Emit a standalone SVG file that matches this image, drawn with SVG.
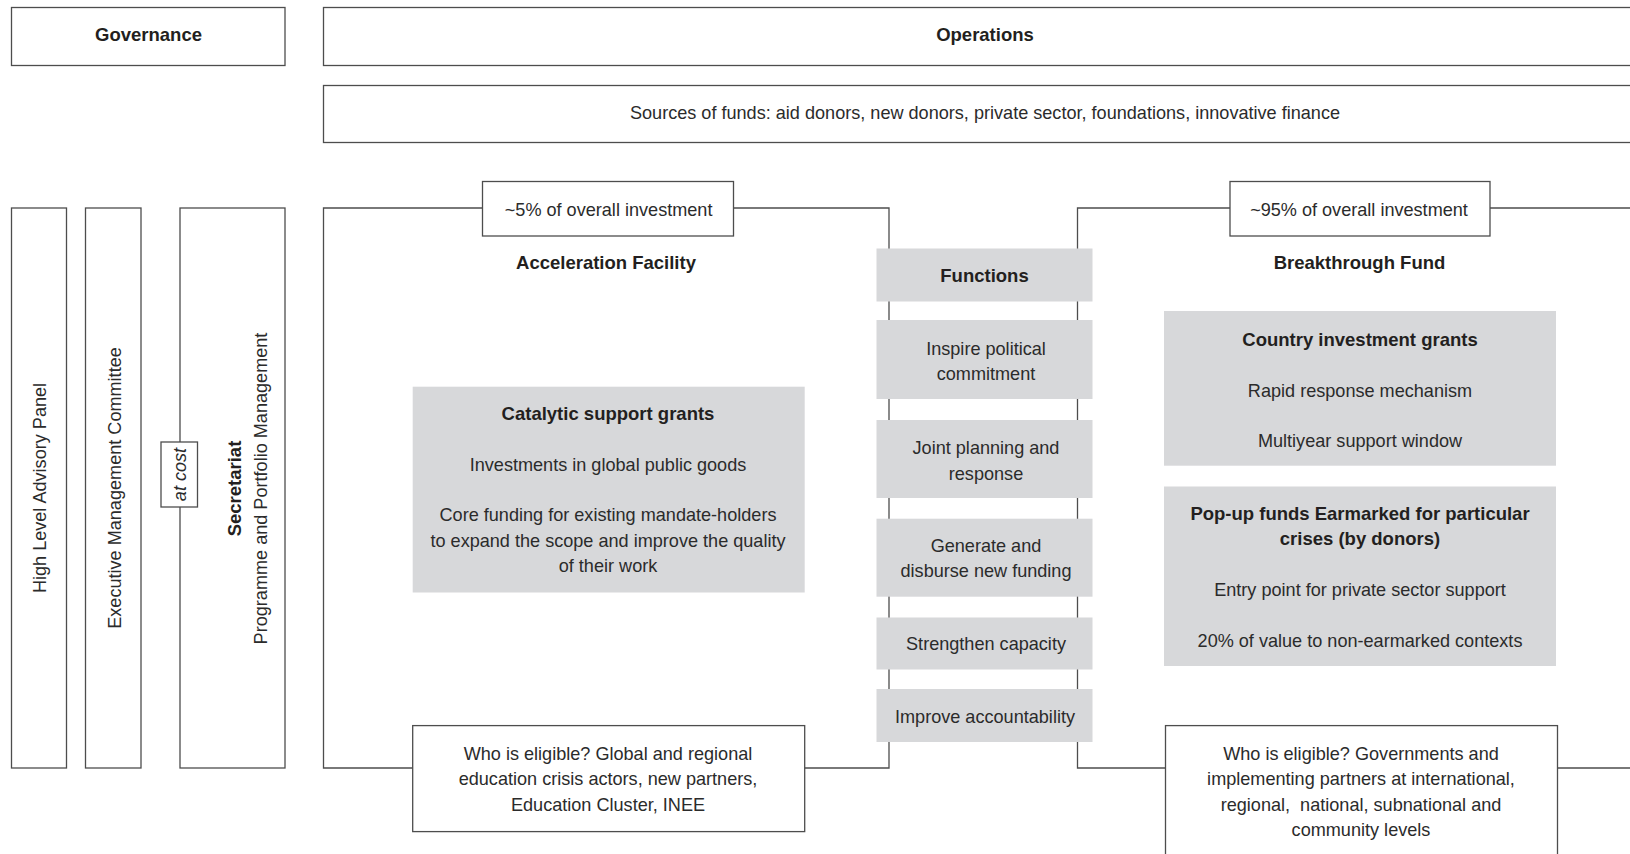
<svg xmlns="http://www.w3.org/2000/svg" width="1630" height="854" viewBox="0 0 1630 854">
<style>
.box{fill:#fff;stroke:#4d4d4d;stroke-width:1.3}
.gray{fill:#d7d8da;stroke:none}
.ln{fill:none;stroke:#4d4d4d;stroke-width:1.3}
.t{font-family:"Liberation Sans",Arial,sans-serif;font-size:18.1px;fill:#2b2b2b;text-anchor:middle}
.b{font-weight:bold;font-size:18.5px;fill:#231f20}
.i{font-style:italic}
</style>
<rect width="1630" height="854" fill="#fff"/>
<g id="connectors">
<path class="ln" d="M323.5,768 L323.5,208 L889,208 L889,768 Z"/>
<path class="ln" d="M1640,208 L1077.5,208 L1077.5,768 L1640,768"/>
</g>
<g id="governance"><rect class="box" x="11.5" y="7.5" width="273.5" height="58"/><text class="t b" x="148.5" y="41">Governance</text></g>
<g id="operations"><rect class="box" x="323.5" y="7.5" width="1320" height="58"/><text class="t b" x="985" y="41">Operations</text></g>
<g id="sources"><rect class="box" x="323.5" y="85.5" width="1320" height="57"/><text class="t" x="985" y="119">Sources of funds: aid donors, new donors, private sector, foundations, innovative finance</text></g>
<g id="hlap"><rect class="box" x="11.5" y="208" width="55" height="560"/><text class="t" transform="translate(39.5,488) rotate(-90)" y="6.5">High Level Advisory Panel</text></g>
<g id="emc"><rect class="box" x="85.5" y="208" width="55.5" height="560"/><text class="t" transform="translate(114.3,488) rotate(-90)" y="6.5">Executive Management Committee</text></g>
<g id="secretariat"><rect class="box" x="180" y="208" width="105" height="560"/><text class="t b" transform="translate(234,488.5) rotate(-90)" y="6.5">Secretariat</text><text class="t" transform="translate(260,488.5) rotate(-90)" y="6.5">Programme and Portfolio Management</text></g>
<g id="atcost"><rect class="box" x="161" y="442" width="36.5" height="65"/><text class="t i" transform="translate(179.3,474.5) rotate(-90)" y="6.5">at cost</text></g>
<g id="pct5"><rect class="box" x="482.5" y="181.5" width="251" height="54.5"/><text class="t" x="608.6" y="215.5">~5% of overall investment</text></g>
<g id="acceleration"><text class="t b" x="606" y="268.5">Acceleration Facility</text></g>
<g id="pct95"><rect class="box" x="1230" y="181.5" width="260" height="54.5"/><text class="t" x="1359" y="215.5">~95% of overall investment</text></g>
<g id="breakthrough"><text class="t b" x="1359.5" y="268.5">Breakthrough Fund</text></g>
<g id="functions"><rect class="gray" x="876.5" y="248.5" width="216" height="53"/><text class="t b" x="984.5" y="282">Functions</text></g>
<g id="f1"><rect class="gray" x="876.5" y="320" width="216" height="79"/><text class="t" x="986" y="354.5">Inspire political</text><text class="t" x="986" y="379.5">commitment</text></g>
<g id="f2"><rect class="gray" x="876.5" y="420" width="216" height="78"/><text class="t" x="986" y="453.5">Joint planning and</text><text class="t" x="986" y="479.5">response</text></g>
<g id="f3"><rect class="gray" x="876.5" y="518.7" width="216" height="78"/><text class="t" x="986" y="552">Generate and</text><text class="t" x="986" y="577">disburse new funding</text></g>
<g id="f4"><rect class="gray" x="876.5" y="617.5" width="216" height="52"/><text class="t" x="986" y="650">Strengthen capacity</text></g>
<g id="f5"><rect class="gray" x="876.5" y="689" width="216" height="53"/><text class="t" x="985" y="722.5">Improve accountability</text></g>
<g id="catalytic"><rect class="gray" x="412.7" y="386.7" width="392" height="205.8"/><text class="t b" x="608" y="420">Catalytic support grants</text><text class="t" x="608" y="471">Investments in global public goods</text><text class="t" x="608" y="521">Core funding for existing mandate-holders</text><text class="t" x="608" y="547">to expand the scope and improve the quality</text><text class="t" x="608" y="572">of their work</text></g>
<g id="eligible-left"><rect class="box" x="412.7" y="725.6" width="392" height="106"/><text class="t" x="608" y="760">Who is eligible? Global and regional</text><text class="t" x="608" y="785">education crisis actors, new partners,</text><text class="t" x="608" y="811">Education Cluster, INEE</text></g>
<g id="country"><rect class="gray" x="1164" y="311" width="392" height="154.7"/><text class="t b" x="1360" y="345.5">Country investment grants</text><text class="t" x="1360" y="396.5">Rapid response mechanism</text><text class="t" x="1360" y="447">Multiyear support window</text></g>
<g id="popup"><rect class="gray" x="1164" y="486.5" width="392" height="179.5"/><text class="t b" x="1360" y="520">Pop-up funds Earmarked for particular</text><text class="t b" x="1360" y="545">crises (by donors)</text><text class="t" x="1360" y="596">Entry point for private sector support</text><text class="t" x="1360" y="646.5">20% of value to non-earmarked contexts</text></g>
<g id="eligible-right"><rect class="box" x="1165.5" y="725.6" width="392" height="140"/><text class="t" x="1361" y="760">Who is eligible? Governments and</text><text class="t" x="1361" y="785">implementing partners at international,</text><text class="t" x="1361" y="811" xml:space="preserve">regional,  national, subnational and</text><text class="t" x="1361" y="836">community levels</text></g>
</svg>
